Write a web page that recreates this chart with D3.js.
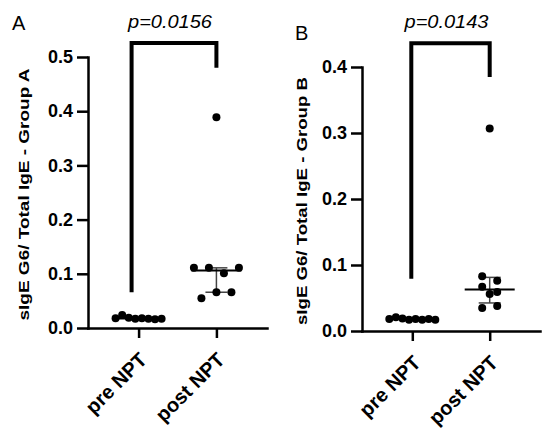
<!DOCTYPE html>
<html><head><meta charset="utf-8">
<script src="https://cdn.jsdelivr.net/npm/d3@7"></script>
<style>
body{margin:0;background:#fff}
svg{display:block}
text{font-family:"Liberation Sans",Arial,Helvetica,sans-serif}
</style>
</head><body>
<svg id="chart" width="550" height="433"></svg>
<script>
// ---------- data ----------
const categories = ["pre NPT", "post NPT"];
const preA  = [0.018, 0.024, 0.019, 0.017, 0.018, 0.017, 0.016, 0.017];
const postA = [0.111, 0.111, 0.101, 0.111, 0.055, 0.066, 0.066, 0.389];
const preB  = [0.018, 0.021, 0.019, 0.017, 0.018, 0.017, 0.018, 0.017];
const postB = [0.083, 0.076, 0.067, 0.059, 0.056, 0.035, 0.038, 0.307];
const ticksA = [0, 0.1, 0.2, 0.3, 0.4, 0.5];
const ticksB = [0, 0.1, 0.2, 0.3, 0.4];
const pLabels = ["p=0.0156", "p=0.0143"];
const panelLetters = ["A", "B"];
const yTitles = ["sIgE G6/ Total IgE - Group A", "sIgE G6/ Total IgE - Group B"];
// bracket: [left leg bottom, top, right leg bottom] in data units
const bracketA = [0.066, 0.526, 0.480];
const bracketB = [0.079, 0.436, 0.385];

// ---------- layout ----------
const panels = [
  {letter: panelLetters[0], title: yTitles[0], p: pLabels[0], pre: preA, post: postA, ticks: ticksA, bracket: bracketA,
   x0: 88, x1: 267, yTop: 57, yBot: 328, letterPos: [12, 30], titleX: 24, titleLen: 252, legOffset: -7},
  {letter: panelLetters[1], title: yTitles[1], p: pLabels[1], pre: preB, post: postB, ticks: ticksB, bracket: bracketB,
   x0: 362, x1: 540, yTop: 67, yBot: 331, letterPos: [295, 40], titleX: 302, titleLen: 248, legOffset: -1}
];

const svg = d3.select("#chart");

function prismQuantile(sorted, p) {
  const n = sorted.length;
  const pos = (n + 1) * p;
  const lo = Math.floor(pos);
  if (lo < 1) return sorted[0];
  if (lo >= n) return sorted[n - 1];
  return sorted[lo - 1] + (pos - lo) * (sorted[lo] - sorted[lo - 1]);
}

// Prism-like column scatter: group close values into rows, centre each row
function swarm(values, y, spacing, maxHalf, thresh) {
  const idx = values.map((v, i) => i).sort((a, b) => values[b] - values[a]);
  const rows = [];
  let cur = null;
  idx.forEach(i => {
    const py = y(values[i]);
    if (cur && Math.abs(py - cur.first) <= thresh) cur.items.push(i);
    else { cur = {first: py, items: [i]}; rows.push(cur); }
  });
  const off = new Array(values.length).fill(0);
  rows.forEach(r => {
    const items = r.items.slice().sort((a, b) => a - b);
    const n = items.length;
    const s = n > 1 ? Math.min(spacing, (2 * maxHalf) / (n - 1)) : 0;
    items.forEach((i, k) => { off[i] = (k - (n - 1) / 2) * s; });
  });
  return off;
}

panels.forEach(P => {
  const g = svg.append("g");
  const y = d3.scaleLinear().domain([0, d3.max(P.ticks)]).range([P.yBot, P.yTop]);
  const x = d3.scalePoint().domain(categories).range([P.x0, P.x1]).padding(0.65);

  // y axis
  const ya = g.append("g").attr("transform", `translate(${P.x0},0)`)
    .call(d3.axisLeft(y).tickValues(P.ticks).tickFormat(d3.format(".1f"))
      .tickSize(11).tickSizeOuter(0).tickPadding(4));
  // x axis
  const xa = g.append("g").attr("transform", `translate(0,${P.yBot})`)
    .call(d3.axisBottom(x).tickSize(10).tickSizeOuter(0));
  [ya, xa].forEach(a => {
    a.select(".domain").attr("stroke", "#000").attr("stroke-width", 2.5).attr("stroke-linecap", "square");
    a.selectAll(".tick line").attr("stroke", "#000").attr("stroke-width", 2.5);
  });
  ya.selectAll(".tick text").attr("font-size", 18).attr("font-weight", "bold").attr("fill", "#000")
    .style("font-family", '"Liberation Sans",Arial,sans-serif');
  xa.selectAll(".tick text").attr("font-size", 20).attr("font-weight", "bold").attr("fill", "#000")
    .style("font-family", '"Liberation Sans",Arial,sans-serif')
    .attr("x", 0).attr("y", 0).attr("dy", 0).attr("text-anchor", "end")
    .attr("transform", "translate(9,33) rotate(-45)");

  // y title
  g.append("text")
    .attr("transform", `translate(${P.titleX + 5},${(P.yTop + P.yBot) / 2 + 2}) rotate(-90)`)
    .attr("text-anchor", "middle").attr("font-size", 15.5).attr("font-weight", "bold")
    .attr("textLength", P.titleLen).attr("lengthAdjust", "spacingAndGlyphs")
    .text(P.title);

  // panel letter
  g.append("text").attr("x", P.letterPos[0]).attr("y", P.letterPos[1])
    .attr("font-size", 20).text(P.letter);

  // groups
  [P.pre, P.post].forEach((vals, gi) => {
    const cx = x(categories[gi]);
    const sorted = vals.slice().sort(d3.ascending);
    const med = d3.median(sorted);
    const q1 = prismQuantile(sorted, 0.25), q3 = prismQuantile(sorted, 0.75);
    const eb = g.append("g").attr("stroke", "#444").attr("stroke-width", 1.5);
    eb.append("line").attr("x1", cx).attr("x2", cx).attr("y1", y(q1)).attr("y2", y(q3));
    eb.append("line").attr("x1", cx - 11).attr("x2", cx + 11).attr("y1", y(q1)).attr("y2", y(q1));
    eb.append("line").attr("x1", cx - 11).attr("x2", cx + 11).attr("y1", y(q3)).attr("y2", y(q3));
    g.append("line").attr("x1", cx - 25).attr("x2", cx + 25).attr("y1", y(med)).attr("y2", y(med))
      .attr("stroke", "#000").attr("stroke-width", 2);
    const off = swarm(vals, y, 15, 23, 6.5);
    g.append("g").selectAll("circle").data(vals).join("circle")
      .attr("cx", (d, i) => cx + off[i]).attr("cy", d => y(d)).attr("r", 4).attr("fill", "#000");
  });

  // significance bracket
  const bx1 = x(categories[0]) + P.legOffset, bx2 = x(categories[1]);
  const [b0, bt, b1] = P.bracket;
  g.append("path")
    .attr("d", d3.line()([[bx1, y(b0)], [bx1, y(bt)], [bx2, y(bt)], [bx2, y(b1)]]))
    .attr("fill", "none").attr("stroke", "#000").attr("stroke-width", 4).attr("stroke-linejoin", "miter");
  g.append("text").attr("x", (bx1 + bx2) / 2 - 4).attr("y", y(bt) - 15)
    .attr("text-anchor", "middle").attr("font-size", 19).attr("font-style", "italic")
    .attr("textLength", 84).attr("lengthAdjust", "spacingAndGlyphs")
    .text(P.p);
});
</script>
</body></html>
